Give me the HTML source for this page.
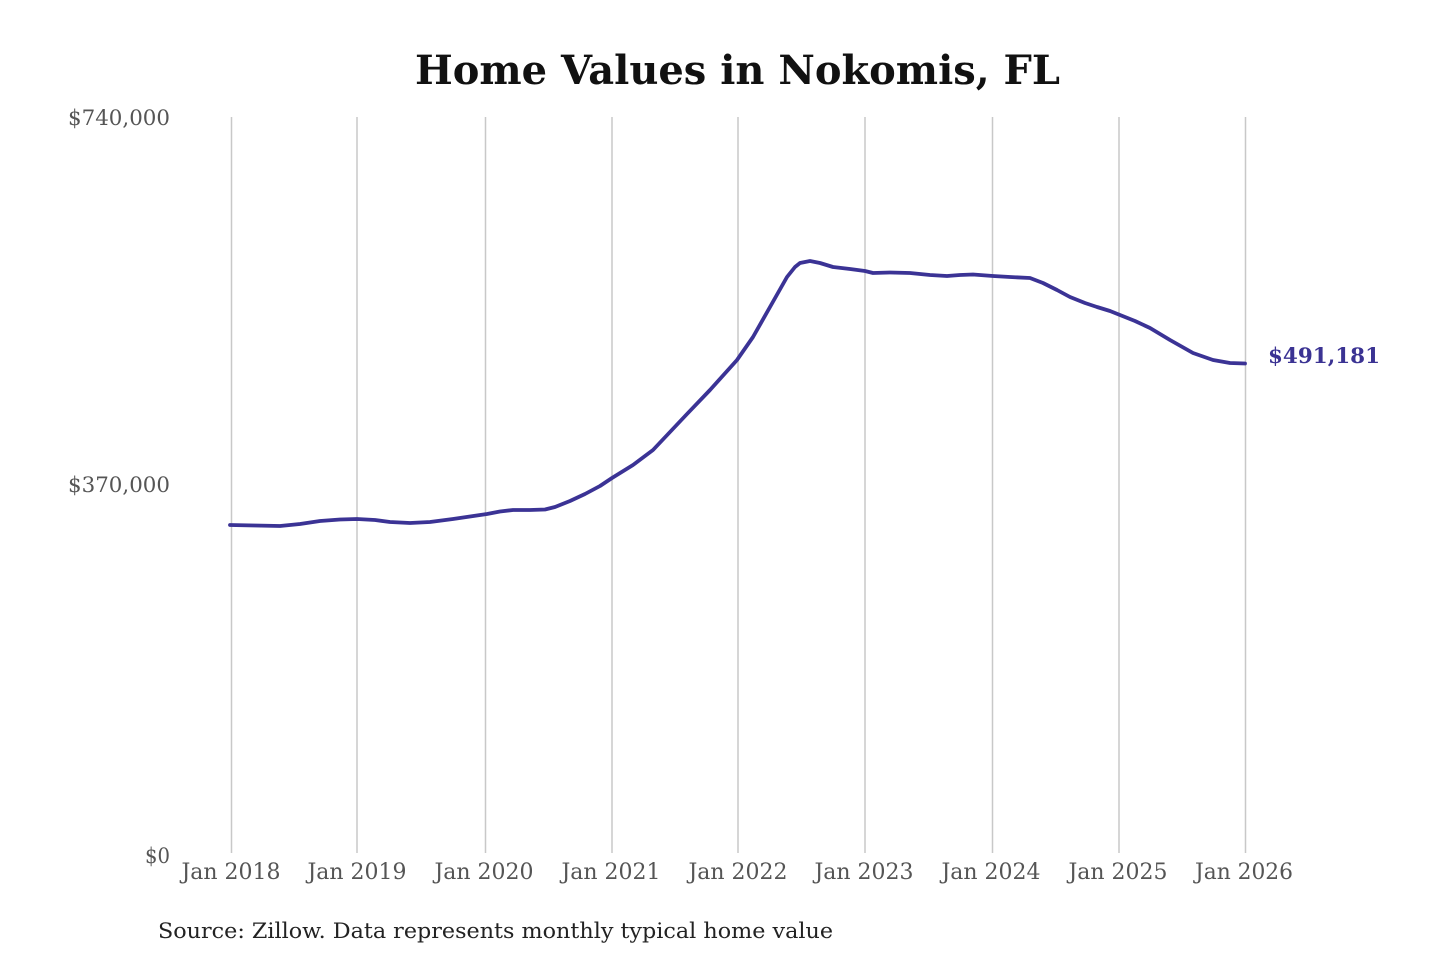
<!DOCTYPE html>
<html>
<head>
<meta charset="utf-8">
<style>
  html,body{margin:0;padding:0;background:#fff;}
  svg{display:block;}
</style>
</head>
<body>
<svg width="1440" height="960" viewBox="0 0 1440 960" xmlns="http://www.w3.org/2000/svg">
  <rect width="1440" height="960" fill="#ffffff"/>
  <text x="737.5" y="84" text-anchor="middle" font-family="'DejaVu Serif','Liberation Serif',serif" font-weight="bold" font-size="40" fill="#111" textLength="645" lengthAdjust="spacingAndGlyphs">Home Values in Nokomis, FL</text>

  <g stroke="#c8c8c8" stroke-width="1.5">
    <line x1="231.5" y1="117" x2="231.5" y2="853"/>
    <line x1="357" y1="117" x2="357" y2="853"/>
    <line x1="485.5" y1="117" x2="485.5" y2="853"/>
    <line x1="612" y1="117" x2="612" y2="853"/>
    <line x1="738" y1="117" x2="738" y2="853"/>
    <line x1="865" y1="117" x2="865" y2="853"/>
    <line x1="992.5" y1="117" x2="992.5" y2="853"/>
    <line x1="1119" y1="117" x2="1119" y2="853"/>
    <line x1="1245.5" y1="117" x2="1245.5" y2="853"/>
  </g>

  <g font-family="'DejaVu Serif','Liberation Serif',serif" font-size="21.5" fill="#555" text-anchor="end">
    <text x="170" y="125" textLength="102" lengthAdjust="spacingAndGlyphs">$740,000</text>
    <text x="170" y="492" textLength="102" lengthAdjust="spacingAndGlyphs">$370,000</text>
    <text x="170" y="863" textLength="25" lengthAdjust="spacingAndGlyphs">$0</text>
  </g>

  <g font-family="'DejaVu Serif','Liberation Serif',serif" font-size="22.5" fill="#555" text-anchor="middle">
    <text x="231" y="879" textLength="99" lengthAdjust="spacingAndGlyphs">Jan 2018</text>
    <text x="357" y="879" textLength="99" lengthAdjust="spacingAndGlyphs">Jan 2019</text>
    <text x="484" y="879" textLength="99" lengthAdjust="spacingAndGlyphs">Jan 2020</text>
    <text x="611" y="879" textLength="99" lengthAdjust="spacingAndGlyphs">Jan 2021</text>
    <text x="738" y="879" textLength="99" lengthAdjust="spacingAndGlyphs">Jan 2022</text>
    <text x="864" y="879" textLength="99" lengthAdjust="spacingAndGlyphs">Jan 2023</text>
    <text x="991" y="879" textLength="99" lengthAdjust="spacingAndGlyphs">Jan 2024</text>
    <text x="1118" y="879" textLength="99" lengthAdjust="spacingAndGlyphs">Jan 2025</text>
    <text x="1244" y="879" textLength="98" lengthAdjust="spacingAndGlyphs">Jan 2026</text>
  </g>

  <polyline fill="none" stroke="#3b3395" stroke-width="3.8" stroke-linejoin="round" stroke-linecap="round"
    points="230,525 255,525.5 280,526 300,524 320,521 340,519.5 357,519 375,520 390,522 410,523 430,522 453,519 470,516.5 487,514 500,511.5 513,510 530,510 545,509.5 555,507 570,501 585,494 600,486 612,478 633,465 653,450 670,432 687,414 710,390 737,360 753,337 770,307 787,277 795,267 800,263 810,261 820,263 833,267 850,269 865,271 873,273 890,272.5 910,273 930,275 947,276 960,275 973,274.5 993,276 1010,277 1030,278 1043,283 1057,290 1070,297 1085,303 1097,307 1110,311 1120,315 1135,321 1150,328 1170,340 1193,353 1213,360 1230,363 1245,363.5"/>

  <text x="1268" y="363" font-family="'DejaVu Serif','Liberation Serif',serif" font-weight="bold" font-size="21.5" fill="#3b3393" textLength="112" lengthAdjust="spacingAndGlyphs">$491,181</text>

  <text x="158" y="938" font-family="'DejaVu Serif','Liberation Serif',serif" font-size="21.5" fill="#222" textLength="675" lengthAdjust="spacingAndGlyphs">Source: Zillow. Data represents monthly typical home value</text>
</svg>
</body>
</html>
